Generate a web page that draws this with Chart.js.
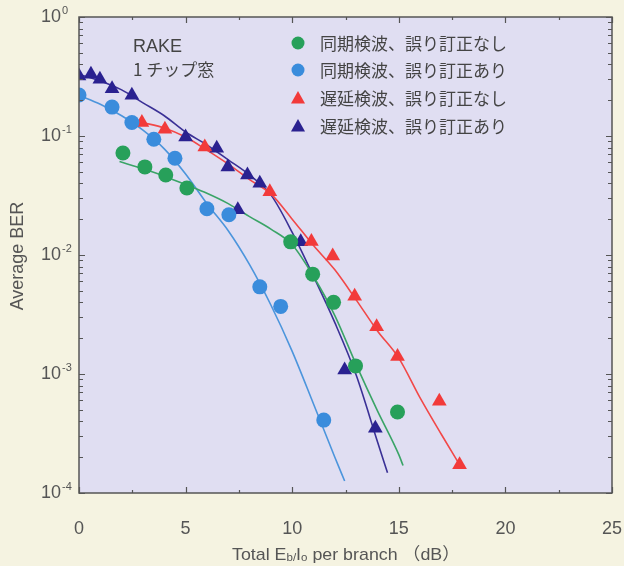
<!DOCTYPE html>
<html>
<head>
<meta charset="utf-8">
<script src="https://cdn.jsdelivr.net/npm/chart.js@4.4.1/dist/chart.umd.min.js"></script>
<style>
html, body { margin: 0; padding: 0; background: #f5f3e1; }
</style>
</head>
<body>
<canvas id="chart" width="624" height="566"></canvas>
<script>
// tick labels
var xTicks = [0, 5, 10, 15, 20, 25];
var yTicks = [1, 0.1, 0.01, 0.001, 0.0001];
var yTickExp = ['0', '-1', '-2', '-3', '-4'];

var seriesNames = [
	'同期検波、誤り訂正なし',
	'同期検波、誤り訂正あり',
	'遅延検波、誤り訂正なし',
	'遅延検波、誤り訂正あり'
];

// measured points
var cohNoFecX = [2.06, 3.09, 4.07, 5.06, 9.93, 10.96, 11.94, 12.97, 14.94];
var cohNoFecY = [0.072, 0.055, 0.047, 0.0366, 0.0129, 0.0069, 0.0040, 0.00117, 0.00048];
var cohFecX = [0, 1.55, 2.48, 3.51, 4.5, 6.0, 7.03, 8.48, 9.46, 11.48];
var cohFecY = [0.221, 0.175, 0.13, 0.094, 0.065, 0.0245, 0.0218, 0.0054, 0.0037, 0.00041];
var difNoFecX = [2.95, 4.03, 5.9, 8.95, 10.9, 11.9, 12.93, 13.96, 14.94, 16.9, 17.85];
var difNoFecY = [0.13, 0.114, 0.081, 0.034, 0.013, 0.0098, 0.0045, 0.0025, 0.0014, 0.00059, 0.000173];
var difFecX = [0, 0.56, 0.98, 1.55, 2.48, 5.0, 6.46, 6.98, 7.9, 8.48, 7.45, 10.4, 12.46, 13.9];
var difFecY = [0.32, 0.33, 0.30, 0.25, 0.22, 0.098, 0.079, 0.055, 0.047, 0.04, 0.024, 0.0129, 0.00108, 0.00035];

// fitted curves
var cohNoFecFitX = [1.9, 3, 4, 5, 6, 7, 8, 9, 10, 11, 12, 13, 14, 15, 15.2];
var cohNoFecFitY = [0.061, 0.053, 0.046, 0.039, 0.033, 0.027, 0.021, 0.0165, 0.0122, 0.0066, 0.0031, 0.0012, 0.00049, 0.00021, 0.00017];
var cohFecFitX = [0, 1, 2, 3, 4, 5, 6, 7, 8, 9, 10, 11, 12, 12.46];
var cohFecFitY = [0.22, 0.185, 0.148, 0.112, 0.078, 0.048, 0.027, 0.016, 0.0083, 0.0038, 0.00155, 0.00056, 0.0002, 0.000126];
var difNoFecFitX = [2.95, 4, 5, 6, 7, 8, 9, 10, 11, 12, 13, 14, 15, 16, 17, 17.85];
var difNoFecFitY = [0.13, 0.117, 0.098, 0.076, 0.058, 0.043, 0.0326, 0.020, 0.0120, 0.0075, 0.0042, 0.0023, 0.00136, 0.00063, 0.00031, 0.000173];
var difFecFitX = [0, 1, 2, 3, 4, 5, 6, 7, 8, 9, 10, 11, 12, 13, 14, 14.47];
var difFecFitY = [0.33, 0.29, 0.244, 0.19, 0.148, 0.108, 0.084, 0.063, 0.047, 0.032, 0.0155, 0.0066, 0.0027, 0.00098, 0.00027, 0.000148];

var markColors = ['#27a05a', '#3a8cdc', '#f23a3a', '#2a2190'];
var lineColors = ['#3aa467', '#4c95dc', '#f24848', '#3a3096'];

function pairs(xs, ys) {
	var out = [];
	for (var i = 0; i < xs.length; i++) {
		out.push({ x: xs[i], y: ys[i] });
	}
	return out;
}

function markSet(i, xs, ys, style) {
	return {
		label: seriesNames[i],
		data: pairs(xs, ys),
		showLine: false,
		pointStyle: style,
		pointRadius: style === 'circle' ? 7.5 : 8.5,
		backgroundColor: markColors[i],
		borderColor: markColors[i],
		borderWidth: 0,
		order: 1
	};
}

function fitSet(i, xs, ys) {
	return {
		label: '',
		data: pairs(xs, ys),
		showLine: true,
		pointRadius: 0,
		borderColor: lineColors[i],
		borderWidth: 1.6,
		cubicInterpolationMode: 'monotone',
		fill: false,
		order: 2
	};
}

function supLabel(ctx, x, y, base, exp, size) {
	ctx.font = size + 'px "Liberation Sans", Arial, sans-serif';
	ctx.textBaseline = 'middle';
	ctx.textAlign = 'left';
	ctx.fillText(base, x, y);
	var w = ctx.measureText(base).width;
	ctx.font = Math.round(size * 0.62) + 'px "Liberation Sans", Arial, sans-serif';
	ctx.fillText(exp, x + w + 1, y - size * 0.35);
}

var framePlugin = {
	id: 'frame',
	beforeDraw: function (chart) {
		var ctx = chart.ctx, a = chart.chartArea;
		ctx.save();
		ctx.fillStyle = '#f5f3e1';
		ctx.fillRect(0, 0, chart.width, chart.height);
		ctx.fillStyle = '#e0def2';
		ctx.fillRect(a.left, a.top, a.right - a.left, a.bottom - a.top);
		ctx.restore();
	},
	afterDraw: function (chart) {
		var ctx = chart.ctx, a = chart.chartArea;
		var xs = chart.scales.x, ys = chart.scales.y;
		ctx.save();
		ctx.strokeStyle = '#555';
		ctx.lineWidth = 1.5;
		ctx.strokeRect(a.left, a.top, a.right - a.left, a.bottom - a.top);

		// x ticks, inward on top and bottom
		ctx.lineWidth = 1.2;
		ctx.beginPath();
		for (var v = 0; v <= 25; v += 2.5) {
			var px = Math.round(xs.getPixelForValue(v)) + 0.5;
			var len = (v % 5 === 0) ? 6 : 3;
			ctx.moveTo(px, a.bottom); ctx.lineTo(px, a.bottom - len);
			ctx.moveTo(px, a.top); ctx.lineTo(px, a.top + len);
		}
		// y log ticks, inward on left and right
		for (var d = 0; d < yTicks.length; d++) {
			for (var m = 1; m <= 9; m++) {
				var val = yTicks[d] * m;
				if (val > 1) continue;
				var py = Math.round(ys.getPixelForValue(val)) + 0.5;
				var l2 = m === 1 ? 6 : 4;
				ctx.moveTo(a.left, py); ctx.lineTo(a.left + l2, py);
				ctx.moveTo(a.right, py); ctx.lineTo(a.right - l2, py);
			}
		}
		ctx.stroke();

		// y tick labels with exponents
		ctx.fillStyle = '#555';
		for (var k = 0; k < yTicks.length; k++) {
			var ty = ys.getPixelForValue(yTicks[k]);
			supLabel(ctx, 41, ty, '10', yTickExp[k], 18);
		}

		// axis titles
		ctx.fillStyle = '#555';
		ctx.save();
		ctx.translate(18, 256);
		ctx.rotate(-Math.PI / 2);
		ctx.font = '18px "Liberation Sans", Arial, sans-serif';
		ctx.textAlign = 'center';
		ctx.textBaseline = 'middle';
		ctx.fillText('Average BER', 0, 0);
		ctx.restore();

		var parts = [
			['Total E', 17, 0], ['b/', 11, 1], ['I', 17, 0], ['o', 11, 1],
			[' per branch ', 17, 0], ['（dB）', 17, 0]
		];
		var total = 0, p;
		for (p = 0; p < parts.length; p++) {
			ctx.font = parts[p][1] + 'px "Liberation Sans", "Noto Sans CJK JP", sans-serif';
			total += ctx.measureText(parts[p][0]).width;
		}
		// the original lettering is set a little wide
		var stretch = 228 / total;
		ctx.save();
		ctx.translate(346 - 114, 560);
		ctx.scale(stretch, 1);
		var cx = 0;
		ctx.textAlign = 'left';
		ctx.textBaseline = 'alphabetic';
		for (p = 0; p < parts.length; p++) {
			ctx.font = parts[p][1] + 'px "Liberation Sans", "Noto Sans CJK JP", sans-serif';
			ctx.fillText(parts[p][0], cx, parts[p][2]);
			cx += ctx.measureText(parts[p][0]).width;
		}
		ctx.restore();

		// note text
		ctx.fillStyle = '#444';
		ctx.font = '18px "Liberation Sans", Arial, sans-serif';
		ctx.textBaseline = 'middle';
		ctx.fillText('RAKE', 133, 47);
		ctx.font = '17px "Noto Sans CJK JP", sans-serif';
		ctx.fillText('1 チップ窓', 133, 70);

		// legend
		var rowY = [43, 70, 98, 126];
		for (var i = 0; i < 4; i++) {
			var ds = chart.data.datasets[i];
			ctx.fillStyle = markColors[i];
			if (ds.pointStyle === 'circle') {
				ctx.beginPath();
				ctx.arc(298, rowY[i], 6.5, 0, Math.PI * 2);
				ctx.fill();
			} else {
				ctx.beginPath();
				ctx.moveTo(298, rowY[i] - 7);
				ctx.lineTo(305, rowY[i] + 5.5);
				ctx.lineTo(291, rowY[i] + 5.5);
				ctx.closePath();
				ctx.fill();
			}
			ctx.fillStyle = '#444';
			ctx.font = '17px "Noto Sans CJK JP", sans-serif';
			ctx.textBaseline = 'middle';
			ctx.fillText(ds.label, 320, rowY[i] + 1);
		}
		ctx.restore();
	}
};

new Chart(document.getElementById('chart'), {
	type: 'scatter',
	data: {
		datasets: [
			markSet(0, cohNoFecX, cohNoFecY, 'circle'),
			markSet(1, cohFecX, cohFecY, 'circle'),
			markSet(2, difNoFecX, difNoFecY, 'triangle'),
			markSet(3, difFecX, difFecY, 'triangle'),
			fitSet(0, cohNoFecFitX, cohNoFecFitY),
			fitSet(1, cohFecFitX, cohFecFitY),
			fitSet(2, difNoFecFitX, difNoFecFitY),
			fitSet(3, difFecFitX, difFecFitY)
		]
	},
	options: {
		responsive: false,
		animation: false,
		devicePixelRatio: 1,
		layout: { padding: { left: 0, top: 17, right: 12, bottom: 0 } },
		plugins: {
			legend: { display: false },
			tooltip: { enabled: false }
		},
		scales: {
			x: {
				type: 'linear',
				min: 0,
				max: 25,
				grid: { display: false, drawTicks: false },
				border: { display: false },
				afterBuildTicks: function (s) {
					s.ticks = xTicks.map(function (v) { return { value: v }; });
				},
				afterFit: function (s) {
					s.height = 73;
					s.paddingLeft = 0;
					s.paddingRight = 0;
				},
				ticks: {
					color: '#555',
					padding: 25,
					maxRotation: 0,
					font: { size: 18, family: '"Liberation Sans", Arial, sans-serif' }
				}
			},
			y: {
				type: 'logarithmic',
				min: 0.0001,
				max: 1,
				grid: { display: false, drawTicks: false },
				border: { display: false },
				afterBuildTicks: function (s) {
					s.ticks = yTicks.map(function (v) { return { value: v }; });
				},
				afterFit: function (s) {
					s.width = 79;
					s.paddingTop = 0;
					s.paddingBottom = 0;
				},
				ticks: { display: false }
			}
		}
	},
	plugins: [framePlugin]
});
</script>
</body>
</html>
